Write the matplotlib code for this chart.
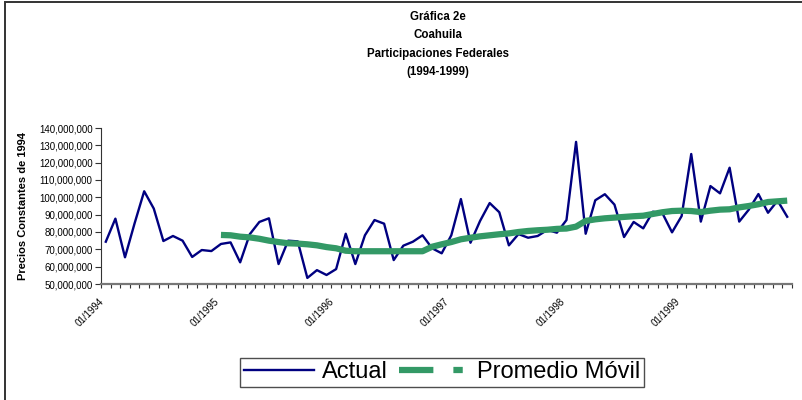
import numpy as np
import matplotlib.pyplot as plt
from matplotlib.lines import Line2D
from matplotlib.patches import Rectangle
from matplotlib.ticker import FuncFormatter

plt.rcParams['font.family'] = ['Liberation Sans', 'DejaVu Sans']

# Participaciones federales, valores mensuales 1994-1999 (millones de pesos de 1994)
actual = [74.4, 87.7, 65.4, 85.0, 103.5, 93.5, 74.8, 77.7, 75.0, 65.6, 69.6, 69.0,
          73.1, 74.0, 62.5, 78.7, 85.8, 87.9, 61.5, 75.0, 74.6, 53.5, 58.0, 55.2,
          58.6, 79.0, 61.5, 78.1, 86.9, 84.8, 63.8, 72.1, 74.4, 78.1, 70.6, 67.7,
          78.1, 99.0, 73.8, 86.4, 96.7, 91.4, 72.3, 78.8, 76.7, 77.7, 81.2, 79.6,
          86.9, 132.0, 79.0, 98.3, 101.8, 95.8, 77.1, 85.8, 82.1, 91.7, 90.8, 79.8,
          89.2, 125.0, 86.0, 106.5, 102.3, 117.1, 86.0, 92.9, 101.9, 91.1, 98.1, 88.8]

# promedio movil (desde 01/1995)
promedio = [78.3, 78.1, 77.3, 76.9, 76.1, 75.0, 74.2, 73.5, 73.3, 72.9, 72.3, 71.3,
            70.6, 69.2, 68.9, 68.9, 68.9, 68.9, 68.9, 68.9, 68.9, 68.9, 71.5, 72.9,
            74.2, 75.8, 76.7, 77.5, 78.1, 78.7, 79.2, 80.0, 80.6, 81.0, 81.3, 81.8,
            82.0, 83.1, 86.4, 87.3, 87.9, 88.3, 88.7, 89.1, 89.4, 90.4, 91.4, 92.1,
            92.3, 92.1, 91.5, 92.3, 92.9, 93.1, 94.2, 95.0, 96.0, 97.3, 97.7, 98.1]

etiquetas = ['01/1994', '01/1995', '01/1996', '01/1997', '01/1998', '01/1999']

x = np.arange(len(actual))
x_prom = np.arange(len(actual) - len(promedio), len(actual))

fig = plt.figure(figsize=(8.02, 4.0), dpi=100)
ax = fig.add_axes([101 / 802, 1 - 284 / 400, 691 / 802, 156 / 400])

ax.plot(x, np.array(actual) * 1e6, color='#000080', lw=1.7)
ax.plot(x_prom, np.array(promedio) * 1e6, color='#339966', lw=4.5, solid_capstyle='butt')

ax.set_xlim(-0.5, len(actual) - 0.5)
ax.set_ylim(50e6, 140e6)
ax.set_yticks(np.arange(50e6, 140e6 + 1, 10e6))
ax.yaxis.set_major_formatter(FuncFormatter(lambda v, p: f'{v:,.0f}'))
ax.tick_params(axis='y', labelsize=7, length=4, color='#333333', pad=2)

# marcas mensuales y etiquetas anuales
ax.set_xticks(np.arange(-0.5, len(actual), 1))
ax.set_xticklabels([])
ax.tick_params(axis='x', which='major', length=3, color='#333333')
ax.set_xticks(np.arange(0, len(actual), 12), minor=True)
ax.set_xticklabels(etiquetas, minor=True, rotation=45, ha='right', va='top', fontsize=7)
ax.tick_params(axis='x', which='minor', length=0, pad=9)

for s in ['top', 'right']:
    ax.spines[s].set_visible(False)
ax.spines['left'].set_color('#333333')
ax.spines['bottom'].set_color('#777777')
ax.spines['bottom'].set_linewidth(1.6)

ax.set_ylabel('Precios Constantes de 1994', fontsize=8, fontweight='bold', labelpad=8)

fig.text(0.546, 1 - 44.5 / 400, 'Gráfica 2e\nCoahuila\nParticipaciones Federales\n(1994-1999)',
         ha='center', va='center', fontsize=8.3, fontweight='bold', linespacing=1.7)

# marco exterior
fig.add_artist(Rectangle((5 / 802, -0.1), 1.2, 1.1 - 2 / 400, transform=fig.transFigure,
                         fill=False, edgecolor='#333333', lw=1.4))

h1 = Line2D([], [], color='#000080', lw=1.7)
h2 = Line2D([], [], color='#339966', lw=4.5, linestyle=(0, (5.5, 3.2, 1.5, 10)))
fig.legend([h1, h2], ['Actual', 'Promedio Móvil'], loc='center', ncol=2,
           bbox_to_anchor=(442 / 802, 1 - 372.5 / 400), fontsize=17, frameon=True,
           fancybox=False, edgecolor='#222222', handlelength=3.0, handletextpad=0.3,
           columnspacing=0.5, borderpad=0.15, borderaxespad=0)
fig.legends[0].get_frame().set_linewidth(1.0)

fig.savefig('out.png', dpi=100)
